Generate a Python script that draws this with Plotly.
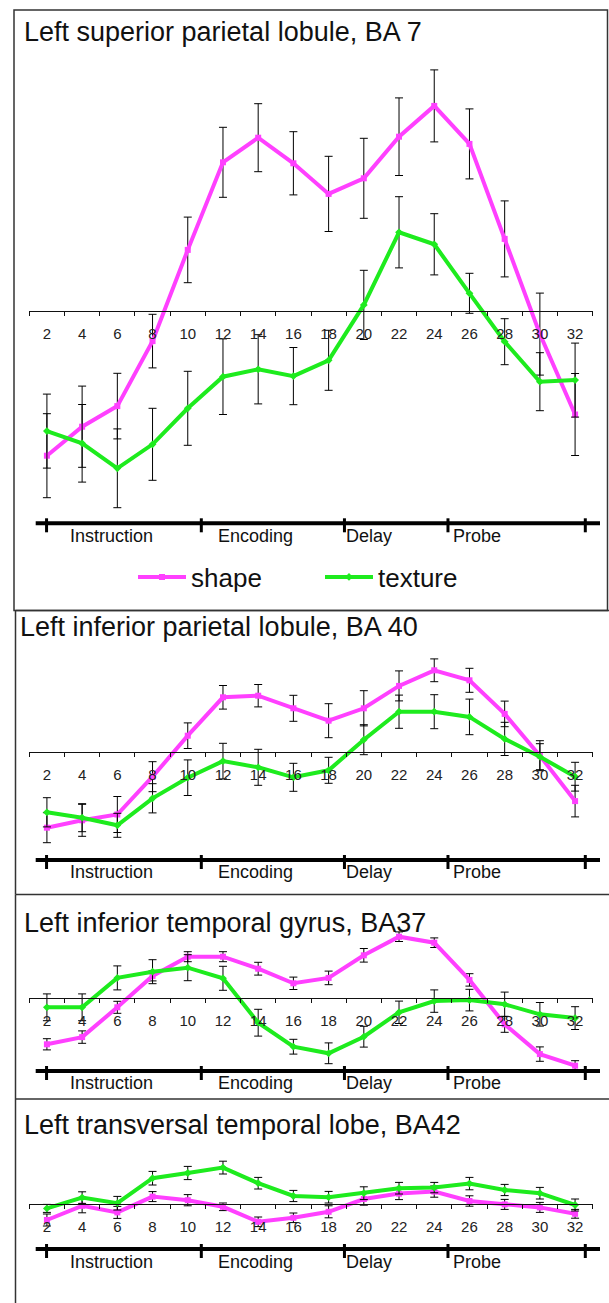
import plotly.graph_objects as go

# ---------------- data ----------------
time_points = list(range(2, 33, 2))
tick_labels = [str(t) for t in time_points]
minor_tick_vals = list(range(1, 34, 2))

panel_titles = [
    "Left superior parietal lobule, BA 7",
    "Left inferior parietal lobule, BA 40",
    "Left inferior temporal gyrus, BA37",
    "Left transversal temporal lobe, BA42",
]
series_names = ["shape", "texture"]
phase_names = ["Instruction", "Encoding", "Delay", "Probe"]
phase_bounds = [1.98, 10.77, 18.9, 24.78, 32.58]
phase_label_x = [3.2, 11.6, 18.85, 24.95]

shape_ba7 = [-0.725, -0.58, -0.477, -0.152, 0.304, 0.742, 0.865, 0.737, 0.584, 0.662, 0.87, 1.024, 0.834, 0.359, -0.117, -0.519]
shape_ba7_err = [0.21, 0.203, 0.164, 0.134, 0.164, 0.175, 0.17, 0.158, 0.188, 0.2, 0.194, 0.18, 0.175, 0.19, 0.205, 0.205]
texture_ba7 = [-0.602, -0.663, -0.788, -0.668, -0.488, -0.33, -0.293, -0.327, -0.248, 0.029, 0.392, 0.332, 0.087, -0.155, -0.355, -0.347]
texture_ba7_err = [0.185, 0.194, 0.197, 0.18, 0.185, 0.189, 0.173, 0.143, 0.15, 0.173, 0.178, 0.153, 0.1, 0.115, 0.145, 0.185]

shape_ba40 = [-0.38, -0.343, -0.314, -0.125, 0.08, 0.272, 0.28, 0.217, 0.155, 0.217, 0.329, 0.407, 0.357, 0.189, -0.02, -0.247]
shape_ba40_err = [0.075, 0.08, 0.09, 0.075, 0.064, 0.059, 0.056, 0.065, 0.085, 0.088, 0.075, 0.057, 0.06, 0.064, 0.075, 0.079]
texture_ba40 = [-0.303, -0.33, -0.368, -0.233, -0.13, -0.047, -0.078, -0.128, -0.093, 0.06, 0.2, 0.2, 0.174, 0.064, -0.025, -0.125]
texture_ba40_err = [0.073, 0.07, 0.06, 0.073, 0.089, 0.089, 0.09, 0.07, 0.065, 0.075, 0.083, 0.085, 0.089, 0.083, 0.065, 0.072]

shape_ba37 = [-0.23, -0.194, -0.045, 0.112, 0.208, 0.208, 0.148, 0.075, 0.102, 0.215, 0.308, 0.278, 0.092, -0.13, -0.279, -0.337]
shape_ba37_err = [0.028, 0.031, 0.03, 0.025, 0.025, 0.025, 0.032, 0.031, 0.034, 0.034, 0.024, 0.024, 0.031, 0.04, 0.036, 0.025]
texture_ba37 = [-0.045, -0.045, 0.102, 0.133, 0.153, 0.1, -0.122, -0.242, -0.275, -0.192, -0.07, -0.014, -0.009, -0.03, -0.08, -0.099]
texture_ba37_err = [0.067, 0.067, 0.06, 0.06, 0.065, 0.06, 0.067, 0.037, 0.052, 0.052, 0.056, 0.056, 0.054, 0.061, 0.059, 0.057]

shape_ba42 = [-0.08, -0.009, -0.042, 0.037, 0.019, -0.014, -0.089, -0.069, -0.039, 0.025, 0.052, 0.062, 0.015, -0.002, -0.017, -0.049]
shape_ba42_err = [0.03, 0.035, 0.03, 0.025, 0.028, 0.019, 0.024, 0.024, 0.03, 0.031, 0.03, 0.028, 0.026, 0.025, 0.025, 0.022]
texture_ba42 = [-0.022, 0.032, 0.004, 0.129, 0.155, 0.182, 0.104, 0.04, 0.034, 0.054, 0.079, 0.082, 0.102, 0.07, 0.054, -0.005]
texture_ba42_err = [0.02, 0.029, 0.034, 0.034, 0.033, 0.032, 0.029, 0.028, 0.029, 0.032, 0.029, 0.026, 0.031, 0.028, 0.029, 0.03]

panel_series = [
    (shape_ba7, shape_ba7_err, texture_ba7, texture_ba7_err),
    (shape_ba40, shape_ba40_err, texture_ba40, texture_ba40_err),
    (shape_ba37, shape_ba37_err, texture_ba37, texture_ba37_err),
    (shape_ba42, shape_ba42_err, texture_ba42, texture_ba42_err),
]

# ---------------- layout geometry (pixels) ----------------
W, H = 609, 1303
PX_PER_UNIT = 200.0
X_LEFT_PX, X_RIGHT_PX = 29.3, 592.7
X_MIN, X_MAX = 1, 33
# axis_px, plot_top_px, plot_bottom_px, title_x_px, title_y_px, timeline_px, phase_label_px
panel_geom = [
    (310.7, 55, 515, 22, 31.7, 523.3, 536),
    (751.7, 640, 858, 18, 626.7, 860.0, 871.5),
    (998.3, 925, 1075, 22, 923.3, 1071.0, 1082.5),
    (1204.0, 1150, 1240, 22, 1125.0, 1249.0, 1261.5),
]

PINK = "#FF40FF"
GREEN = "#1EEB1E"
FONT = "Liberation Sans, Arial, sans-serif"


def py(px):
    return 1 - px / H


def px_x(px):
    return px / W


def xdata_to_paper(v):
    return (X_LEFT_PX + (v - X_MIN) / (X_MAX - X_MIN) * (X_RIGHT_PX - X_LEFT_PX)) / W


fig = go.Figure()
shapes = []
annotations = []
layout_axes = {}

for i, (geom, series) in enumerate(zip(panel_geom, panel_series)):
    axis_px, top_px, bot_px, tx, ty, tl_px, lab_px = geom
    sfx = "" if i == 0 else str(i + 1)
    xa, ya = "x" + sfx, "y" + sfx
    s_vals, s_err, t_vals, t_err = series

    fig.add_trace(go.Scatter(
        x=time_points, y=s_vals, name=series_names[0], mode="lines+markers",
        line=dict(color=PINK, width=4), marker=dict(symbol="square", size=6, color=PINK),
        error_y=dict(type="data", array=s_err, color="black", thickness=1, width=4),
        xaxis=xa, yaxis=ya, showlegend=(i == 0), legendgroup="shape", cliponaxis=False,
    ))
    fig.add_trace(go.Scatter(
        x=time_points, y=t_vals, name=series_names[1], mode="lines+markers",
        line=dict(color=GREEN, width=4), marker=dict(symbol="diamond", size=6, color=GREEN),
        error_y=dict(type="data", array=t_err, color="black", thickness=1, width=4),
        xaxis=xa, yaxis=ya, showlegend=(i == 0), legendgroup="texture", cliponaxis=False,
    ))

    y_lo = (axis_px - bot_px) / PX_PER_UNIT
    y_hi = (axis_px - top_px) / PX_PER_UNIT
    layout_axes["yaxis" + sfx] = dict(
        domain=[py(bot_px), py(top_px)], range=[y_lo, y_hi], visible=False,
        showgrid=False, zeroline=False, fixedrange=True,
    )
    layout_axes["xaxis" + sfx] = dict(
        domain=[X_LEFT_PX / W, X_RIGHT_PX / W], range=[X_MIN, X_MAX],
        anchor="free", position=py(axis_px),
        showline=True, linecolor="#111", linewidth=1,
        tickmode="array", tickvals=time_points, ticktext=tick_labels,
        ticks="", ticklabelstandoff=9,
        tickfont=dict(family=FONT, size=15, color="#222"),
        minor=dict(tickmode="array", tickvals=minor_tick_vals, ticks="outside",
                   ticklen=4, tickwidth=1, tickcolor="#111", showgrid=False),
        showgrid=False, zeroline=False, fixedrange=True,
    )

    # title
    annotations.append(dict(
        text=panel_titles[i], xref="paper", yref="paper", x=px_x(tx), y=py(ty),
        xanchor="left", yanchor="middle", showarrow=False,
        font=dict(family=FONT, size=27, color="#111"),
    ))

    # timeline bar
    shapes.append(dict(type="line", xref="paper", yref="paper",
                       x0=px_x(35.7), x1=px_x(600), y0=py(tl_px), y1=py(tl_px),
                       line=dict(color="black", width=4)))
    for b in phase_bounds:
        shapes.append(dict(type="line", xref="paper", yref="paper",
                           x0=xdata_to_paper(b), x1=xdata_to_paper(b),
                           y0=py(tl_px - 5), y1=py(tl_px + 9),
                           line=dict(color="black", width=3)))
    for name, lx in zip(phase_names, phase_label_x):
        annotations.append(dict(
            text=name, xref=xa, yref="paper", x=lx, y=py(lab_px),
            xanchor="left", yanchor="middle", showarrow=False,
            font=dict(family=FONT, size=18, color="#111"),
        ))

# panel borders
BORDER = dict(color="#333", width=1.5)
shapes.append(dict(type="rect", xref="paper", yref="paper",
                   x0=px_x(14), x1=px_x(607.5), y0=py(610.5), y1=py(10), line=BORDER))
for top, bot in [(610.5, 894.5), (894.5, 1099), (1099, 1310)]:
    shapes.append(dict(type="line", xref="paper", yref="paper",
                       x0=px_x(15.5), x1=px_x(15.5), y0=py(bot), y1=py(top), line=BORDER))
    shapes.append(dict(type="line", xref="paper", yref="paper",
                       x0=px_x(15.5), x1=px_x(612), y0=py(top), y1=py(top), line=BORDER))

fig.update_layout(
    width=W, height=H, margin=dict(l=0, r=0, t=0, b=0),
    paper_bgcolor="white", plot_bgcolor="rgba(0,0,0,0)",
    font=dict(family=FONT, color="#111"),
    shapes=shapes, annotations=annotations,
    legend=dict(orientation="h", x=px_x(133), y=py(577), xanchor="left", yanchor="middle",
                font=dict(family=FONT, size=26, color="#111"), bgcolor="rgba(0,0,0,0)",
                entrywidth=124, itemwidth=48, tracegroupgap=0),
    showlegend=True,
    **layout_axes,
)

fig.write_html("out.html",
               config={"displayModeBar": False},
               post_script="document.body.style.margin='0';document.body.style.padding='0';")
